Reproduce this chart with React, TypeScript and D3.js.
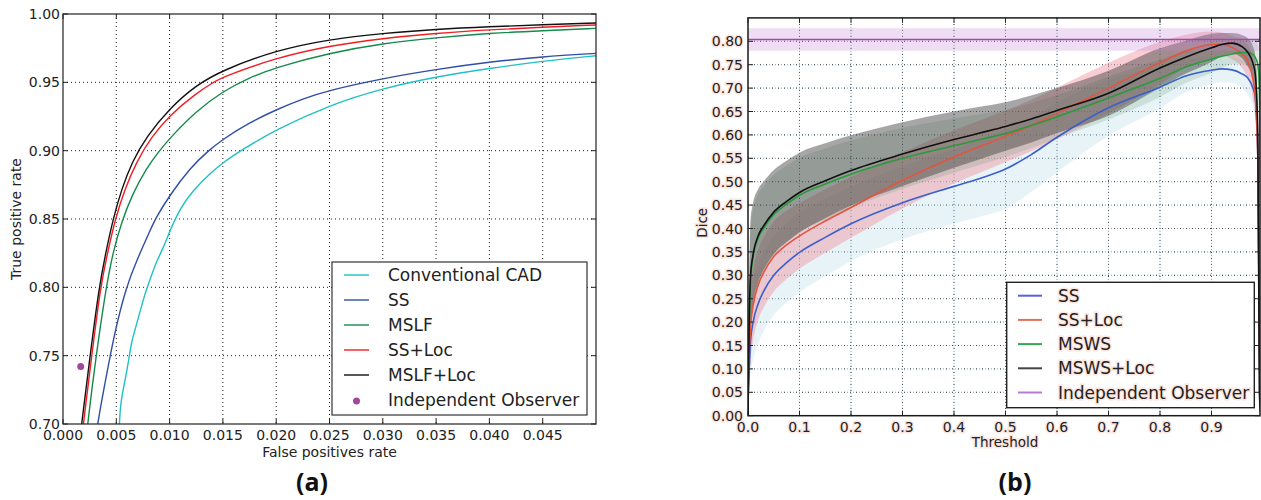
import React from "react";
import * as d3 from "d3";

// ---------------- (a) ROC data ----------------
const rocXTicks = [0, 0.005, 0.01, 0.015, 0.02, 0.025, 0.03, 0.035, 0.04, 0.045];
const rocYTicks = [0.7, 0.75, 0.8, 0.85, 0.9, 0.95, 1.0];

const cadFpr = [0.00525, 0.00529, 0.00541, 0.00597, 0.00644, 0.00675, 0.0076, 0.00786, 0.0088, 0.00933, 0.01006, 0.011, 0.01225, 0.01382, 0.015, 0.01664, 0.02, 0.025, 0.03, 0.035, 0.04, 0.045, 0.05];
const cadTpr = [0.69, 0.7, 0.7173, 0.7368, 0.7612, 0.7685, 0.793, 0.799, 0.8198, 0.8273, 0.842, 0.858, 0.8715, 0.8835, 0.8912, 0.9, 0.9155, 0.9334, 0.9456, 0.9541, 0.9602, 0.9656, 0.9695];

const ssFpr = [0.0031, 0.00323, 0.0041, 0.00489, 0.00592, 0.00692, 0.00818, 0.00865, 0.01, 0.012, 0.0135, 0.015, 0.0175, 0.02, 0.0225, 0.025, 0.03, 0.035, 0.04, 0.045, 0.05];
const ssTpr = [0.69, 0.7, 0.7368, 0.7685, 0.8, 0.8198, 0.8417, 0.85, 0.8674, 0.888, 0.899, 0.9085, 0.9205, 0.93, 0.938, 0.9443, 0.9529, 0.9595, 0.9649, 0.9688, 0.9712];

const mslfFpr = [0.0022, 0.00231, 0.0031, 0.00404, 0.0047, 0.0055, 0.0065, 0.0078, 0.00905, 0.01, 0.0125, 0.015, 0.0175, 0.02, 0.025, 0.03, 0.035, 0.04, 0.045, 0.05];
const mslfTpr = [0.69, 0.7, 0.75, 0.8, 0.826, 0.848, 0.868, 0.887, 0.9, 0.909, 0.929, 0.9435, 0.9535, 0.961, 0.9715, 0.9785, 0.9827, 0.9859, 0.9878, 0.9895];

const ssLocFpr = [0.0018, 0.0019, 0.0027, 0.0035, 0.0042, 0.0049, 0.0058, 0.0069, 0.0083, 0.01, 0.0125, 0.0141, 0.015, 0.02, 0.025, 0.03, 0.035, 0.04, 0.045, 0.05];
const ssLocTpr = [0.69, 0.7, 0.75, 0.8, 0.826, 0.85, 0.872, 0.892, 0.91, 0.926, 0.942, 0.95, 0.954, 0.968, 0.9768, 0.9822, 0.9859, 0.9885, 0.9904, 0.992];

const mslfLocFpr = [0.0016, 0.00175, 0.00254, 0.00338, 0.004, 0.0047, 0.0055, 0.0065, 0.0078, 0.01, 0.0125, 0.015, 0.02, 0.025, 0.03, 0.035, 0.04, 0.045, 0.05];
const mslfLocTpr = [0.69, 0.7, 0.75, 0.8, 0.825, 0.85, 0.872, 0.892, 0.91, 0.931, 0.948, 0.959, 0.9735, 0.9815, 0.9859, 0.9888, 0.9907, 0.9922, 0.9934];

const observerFpr = 0.00166;
const observerTpr = 0.742;

const rocNames = ["Conventional CAD", "SS", "MSLF", "SS+Loc", "MSLF+Loc", "Independent Observer"];

// ---------------- (b) Dice data ----------------
const diceXTicks = [0, 0.1, 0.2, 0.3, 0.4, 0.5, 0.6, 0.7, 0.8, 0.9];
const diceYTicks = [0, 0.05, 0.1, 0.15, 0.2, 0.25, 0.3, 0.35, 0.4, 0.45, 0.5, 0.55, 0.6, 0.65, 0.7, 0.75, 0.8];

const thresholds = [0, 0.002, 0.005, 0.01, 0.02, 0.03, 0.05, 0.075, 0.1, 0.15, 0.2, 0.3, 0.4, 0.45, 0.5, 0.55, 0.6, 0.7, 0.8, 0.85, 0.9, 0.92, 0.94, 0.96, 0.97, 0.98, 0.985, 0.99, 0.993, 0.996, 1.0];

const ssMean = [0.04, 0.09, 0.16, 0.2, 0.24, 0.265, 0.3, 0.327, 0.349, 0.381, 0.41, 0.455, 0.49, 0.507, 0.527, 0.558, 0.595, 0.658, 0.702, 0.726, 0.738, 0.741, 0.739, 0.73, 0.722, 0.702, 0.68, 0.55, 0.15, 0.02, 0.0];
const ssStd = [0.02, 0.05, 0.07, 0.08, 0.085, 0.085, 0.085, 0.085, 0.085, 0.083, 0.08, 0.078, 0.08, 0.082, 0.085, 0.08, 0.075, 0.06, 0.045, 0.035, 0.03, 0.028, 0.028, 0.03, 0.035, 0.04, 0.045, 0.05, 0.04, 0.02, 0.0];

const ssLocMean = [0.05, 0.12, 0.19, 0.235, 0.28, 0.305, 0.34, 0.365, 0.384, 0.416, 0.445, 0.503, 0.553, 0.575, 0.597, 0.62, 0.646, 0.7, 0.754, 0.779, 0.793, 0.794, 0.787, 0.772, 0.758, 0.722, 0.68, 0.55, 0.15, 0.02, 0.0];
const ssLocStd = [0.02, 0.05, 0.07, 0.075, 0.075, 0.075, 0.075, 0.073, 0.07, 0.068, 0.065, 0.06, 0.057, 0.056, 0.055, 0.055, 0.055, 0.054, 0.045, 0.035, 0.028, 0.025, 0.025, 0.03, 0.035, 0.04, 0.045, 0.05, 0.04, 0.02, 0.0];

const mswsMean = [0.0, 0.17, 0.29, 0.34, 0.38, 0.4, 0.43, 0.452, 0.471, 0.495, 0.516, 0.55, 0.577, 0.59, 0.603, 0.62, 0.639, 0.679, 0.721, 0.745, 0.762, 0.768, 0.773, 0.776, 0.776, 0.772, 0.765, 0.75, 0.7, 0.4, 0.2];
const mswsStd = [0.0, 0.075, 0.11, 0.1, 0.095, 0.09, 0.085, 0.082, 0.08, 0.076, 0.072, 0.065, 0.058, 0.054, 0.05, 0.048, 0.046, 0.046, 0.04, 0.034, 0.029, 0.025, 0.022, 0.024, 0.028, 0.032, 0.038, 0.045, 0.045, 0.02, 0.0];

const mswsLocMean = [0.0, 0.18, 0.3, 0.345, 0.385, 0.405, 0.435, 0.458, 0.477, 0.502, 0.524, 0.559, 0.59, 0.604, 0.618, 0.634, 0.652, 0.689, 0.743, 0.766, 0.786, 0.793, 0.796, 0.788, 0.777, 0.755, 0.73, 0.6, 0.05, 0.0, 0.0];
const mswsLocStd = [0.0, 0.08, 0.12, 0.11, 0.1, 0.095, 0.09, 0.087, 0.085, 0.08, 0.075, 0.068, 0.06, 0.056, 0.052, 0.05, 0.048, 0.048, 0.042, 0.035, 0.03, 0.025, 0.022, 0.025, 0.03, 0.035, 0.04, 0.05, 0.03, 0.0, 0.0];

const observerDice = 0.804;
const observerDiceStd = 0.024;

const diceNames = ["SS", "SS+Loc", "MSWS", "MSWS+Loc", "Independent Observer"];

// ---------------- layout helpers ----------------
const FONT = "DejaVu Sans, Liberation Sans, sans-serif";

function fmt(v: number, d: number) {
  return v.toFixed(d);
}

export default function App() {
  // ----- (a) -----
  const xA = d3.scaleLinear().domain([0, 0.05]).range([63, 596]);
  const yA = d3.scaleLinear().domain([0.7, 1.0]).range([424, 14]);
  const rocLine = d3
    .line<[number, number]>()
    .x((d) => xA(d[0]))
    .y((d) => yA(d[1]))
    .curve(d3.curveBasis);
  const zip = (a: number[], b: number[]) => a.map((v, i) => [v, b[i]] as [number, number]);
  const rocSeries = [
    { name: rocNames[0], color: "#1fc1c3", data: zip(cadFpr, cadTpr) },
    { name: rocNames[1], color: "#2f4ea6", data: zip(ssFpr, ssTpr) },
    { name: rocNames[2], color: "#158a4c", data: zip(mslfFpr, mslfTpr) },
    { name: rocNames[3], color: "#f01e24", data: zip(ssLocFpr, ssLocTpr) },
    { name: rocNames[4], color: "#111111", data: zip(mslfLocFpr, mslfLocTpr) },
  ];
  const [a0, a1] = xA.range();
  const [aB, aT] = yA.range();

  // ----- (b) -----
  const xB = d3.scaleLinear().domain([0, 1]).range([748, 1263]);
  const yB = d3.scaleLinear().domain([0, 0.85]).range([415.7, 17.9]);
  const bL = 748;
  const bR = 1260;
  const bB = 415.7;
  const bT = 17.9;
  const diceLine = d3
    .line<number>()
    .x((_, i) => xB(thresholds[i]))
    .y((d) => yB(d))
    .curve(d3.curveMonotoneX);
  const band = (mean: number[], std: number[]) =>
    d3
      .area<number>()
      .x((_, i) => xB(thresholds[i]))
      .y0((d, i) => yB(Math.max(0, d - std[i])))
      .y1((d, i) => yB(d + std[i]))
      .curve(d3.curveMonotoneX)(mean) as string;
  const diceSeries = [
    { name: diceNames[0], color: "#3a5fcd", legend: "#5b62d6", band: "#bcdcec", bandOp: 0.35, mean: ssMean, std: ssStd },
    { name: diceNames[1], color: "#e2553f", legend: "#e4705c", band: "#f0929f", bandOp: 0.45, mean: ssLocMean, std: ssLocStd },
    { name: diceNames[2], color: "#2b9a3c", legend: "#3aa653", band: "#4a8a55", bandOp: 0.18, mean: mswsMean, std: mswsStd },
    { name: diceNames[3], color: "#111111", legend: "#444444", band: "#454545", bandOp: 0.48, mean: mswsLocMean, std: mswsLocStd },
  ];

  const halo = { stroke: "#fbe6df", strokeWidth: 3, paintOrder: "stroke" as const };

  return (
    <svg
      width={1261}
      height={500}
      viewBox="0 0 1261 500"
      style={{ position: "absolute", left: 0, top: 0, background: "#fff" }}
      fontFamily={FONT}
    >
      <defs>
        <clipPath id="clipA">
          <rect x={a0} y={aT} width={a1 - a0} height={aB - aT} />
        </clipPath>
        <clipPath id="clipB">
          <rect x={bL} y={bT} width={bR - bL} height={bB - bT} />
        </clipPath>
      </defs>

      {/* ================= (a) ================= */}
      <rect x={0} y={0} width={1261} height={500} fill="#fff" />
      {rocXTicks.slice(1).map((t) => (
        <line key={"gx" + t} x1={xA(t)} x2={xA(t)} y1={aT} y2={aB} stroke="#222" strokeWidth={1} strokeDasharray="1,3" />
      ))}
      {rocYTicks.slice(1, -1).map((t) => (
        <line key={"gy" + t} x1={a0} x2={a1} y1={yA(t)} y2={yA(t)} stroke="#222" strokeWidth={1} strokeDasharray="1,3" />
      ))}
      <g clipPath="url(#clipA)">
        {rocSeries.map((s) => (
          <path key={s.name} d={rocLine(s.data) as string} fill="none" stroke={s.color} strokeWidth={1.4} />
        ))}
      </g>
      <circle cx={xA(observerFpr)} cy={yA(observerTpr)} r={3.5} fill="#a2479f" />
      <rect x={a0} y={aT} width={a1 - a0} height={aB - aT} fill="none" stroke="#222" strokeWidth={1.2} />
      {rocXTicks.map((t) => (
        <g key={"tx" + t}>
          <line x1={xA(t)} x2={xA(t)} y1={aB} y2={aB - 5} stroke="#222" />
          <line x1={xA(t)} x2={xA(t)} y1={aT} y2={aT + 5} stroke="#222" />
          <text x={xA(t)} y={435} fontSize={14} textAnchor="middle" dominantBaseline="central" fill="#222">
            {fmt(t, 3)}
          </text>
        </g>
      ))}
      {rocYTicks.map((t) => (
        <g key={"ty" + t}>
          <line x1={a0} x2={a0 + 5} y1={yA(t)} y2={yA(t)} stroke="#222" />
          <line x1={a1} x2={a1 - 5} y1={yA(t)} y2={yA(t)} stroke="#222" />
          <text x={60} y={yA(t)} fontSize={14} textAnchor="end" dominantBaseline="central" fill="#222">
            {fmt(t, 2)}
          </text>
        </g>
      ))}
      <text x={(a0 + a1) / 2} y={452} fontSize={14} textAnchor="middle" dominantBaseline="central" fill="#222">
        False positives rate
      </text>
      <text
        transform={`translate(16,${(aT + aB) / 2}) rotate(-90)`}
        fontSize={14}
        textAnchor="middle"
        dominantBaseline="central"
        fill="#222"
      >
        True positive rate
      </text>
      <rect x={332} y={262} width={255} height={153} fill="#fff" stroke="#333" strokeWidth={1.2} />
      {rocNames.map((n, i) => {
        const y = 275 + i * 25;
        return (
          <g key={"la" + n}>
            {i < 5 ? (
              <line x1={344} x2={369} y1={y} y2={y} stroke={rocSeries[i].color} strokeWidth={1.4} />
            ) : (
              <circle cx={356.5} cy={y + 1} r={3.5} fill="#a2479f" />
            )}
            <text x={388} y={y} fontSize={17} dominantBaseline="central" fill="#222">
              {n}
            </text>
          </g>
        );
      })}
      <text x={312} y={481} fontSize={25} fontWeight={700} fontFamily="Open Sans, sans-serif" textAnchor="middle" dominantBaseline="central" fill="#111">
        (a)
      </text>

      {/* ================= (b) ================= */}
      {diceXTicks.slice(1).map((t) => (
        <g key={"bgx" + t}>
          <line x1={xB(t)} x2={xB(t)} y1={bT} y2={bB} stroke="#4fb0d6" strokeWidth={1} strokeDasharray="1,2" />
          <line x1={xB(t)} x2={xB(t)} y1={bT} y2={bB} stroke="#444" strokeWidth={1} strokeDasharray="1,5" />
        </g>
      ))}
      {diceYTicks.slice(1).map((t) => (
        <g key={"bgy" + t}>
          <line x1={bL} x2={bR} y1={yB(t)} y2={yB(t)} stroke="#4fb0d6" strokeWidth={1} strokeDasharray="1,2" />
          <line x1={bL} x2={bR} y1={yB(t)} y2={yB(t)} stroke="#444" strokeWidth={1} strokeDasharray="1,5" />
        </g>
      ))}
      <g clipPath="url(#clipB)">
        {diceSeries.map((s) => (
          <path key={"band" + s.name} d={band(s.mean, s.std)} fill={s.band} fillOpacity={s.bandOp} stroke="none" />
        ))}
        <rect
          x={xB(0)}
          y={yB(observerDice + observerDiceStd)}
          width={xB(1) - xB(0)}
          height={yB(observerDice - observerDiceStd) - yB(observerDice + observerDiceStd)}
          fill="#c58ad3"
          fillOpacity={0.28}
        />
        <line x1={xB(0)} x2={xB(1)} y1={yB(observerDice)} y2={yB(observerDice)} stroke="#a347ad" strokeWidth={1.6} />
        {diceSeries.map((s) => (
          <path key={"line" + s.name} d={diceLine(s.mean) as string} fill="none" stroke={s.color} strokeWidth={1.6} />
        ))}
      </g>
      <rect x={bL} y={bT} width={bR - bL} height={bB - bT} fill="none" stroke="#1a1a1a" strokeWidth={1.5} />
      {diceXTicks.map((t) => (
        <g key={"btx" + t}>
          <line x1={xB(t)} x2={xB(t)} y1={bB} y2={bB - 5} stroke="#222" />
          <line x1={xB(t)} x2={xB(t)} y1={bT} y2={bT + 5} stroke="#222" />
          <text x={xB(t)} y={427} fontSize={14} textAnchor="middle" dominantBaseline="central" fill="#222" {...halo}>
            {fmt(t, 1)}
          </text>
        </g>
      ))}
      {diceYTicks.map((t) => (
        <g key={"bty" + t}>
          <line x1={bL} x2={bL + 5} y1={yB(t)} y2={yB(t)} stroke="#222" />
          <line x1={bR} x2={bR - 5} y1={yB(t)} y2={yB(t)} stroke="#222" />
          <text x={743} y={yB(t)} fontSize={14} textAnchor="end" dominantBaseline="central" fill="#222" {...halo}>
            {fmt(t, 2)}
          </text>
        </g>
      ))}
      <text x={1005} y={442} fontSize={13.5} textAnchor="middle" dominantBaseline="central" fill="#222" {...halo}>
        Threshold
      </text>
      <text
        transform={`translate(702,${(bT + bB) / 2 + 6}) rotate(-90)`}
        fontSize={13.5}
        textAnchor="middle"
        dominantBaseline="central"
        fill="#222"
        {...halo}
      >
        Dice
      </text>
      <rect x={1006.7} y={282.3} width={247.6} height={125.4} fill="#fff" stroke="#222" strokeWidth={1.4} />
      {diceNames.map((n, i) => {
        const y = 295.7 + i * 24.2;
        const col = i < 4 ? diceSeries[i].legend : "#b77ad6";
        return (
          <g key={"lb" + n}>
            <line x1={1018} x2={1042} y1={y} y2={y} stroke={col} strokeWidth={2} />
            <text x={1058} y={y} fontSize={17} dominantBaseline="central" fill="#222" {...halo}>
              {n}
            </text>
          </g>
        );
      })}
      <text x={1015} y={481} fontSize={25} fontWeight={700} fontFamily="Open Sans, sans-serif" textAnchor="middle" dominantBaseline="central" fill="#111">
        (b)
      </text>
    </svg>
  );
}
